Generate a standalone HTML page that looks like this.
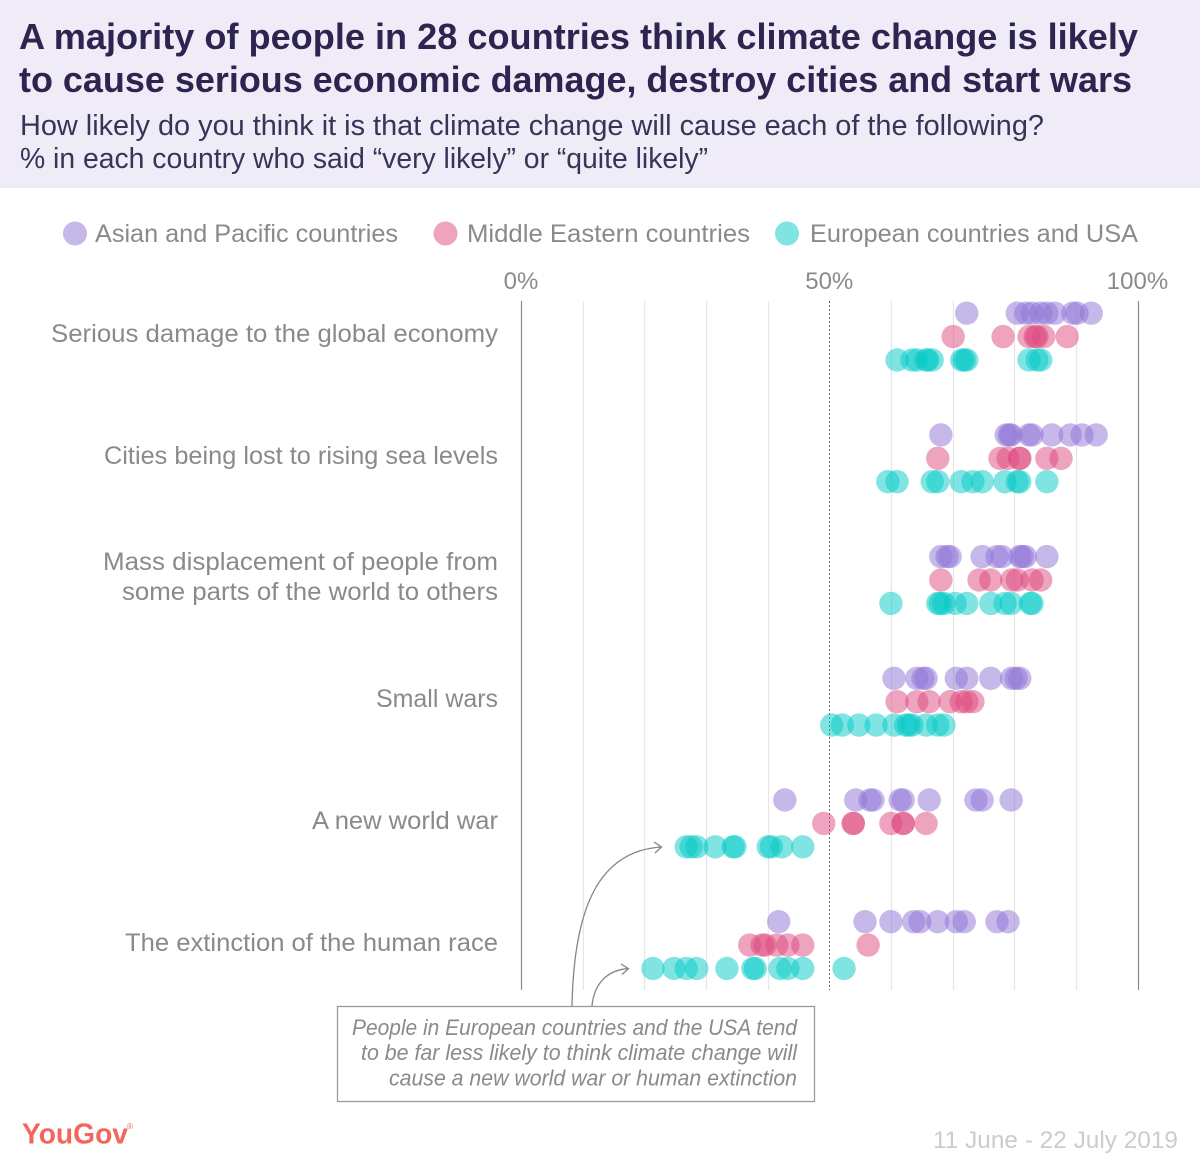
<!DOCTYPE html>
<html lang="en">
<head>
<meta charset="utf-8">
<title>Climate change perceptions chart</title>
<style>
html,body{margin:0;padding:0;background:#fff;}
body{width:1200px;height:1166px;overflow:hidden;}
svg{display:block;font-family:"Liberation Sans",Arial,sans-serif;}
.cat{font-size:25px;fill:#8a8a8a;text-anchor:end;}
.leg{font-size:25px;fill:#8a8a8a;}
.note{font-size:22px;font-style:italic;fill:#8a8a8a;text-anchor:end;}
</style>
</head>
<body>
<svg id="chart" width="1200" height="1166" viewBox="0 0 1200 1166" xmlns="http://www.w3.org/2000/svg">
  <rect x="0" y="0" width="1200" height="188" fill="#efecf7"/>
  <text x="19" y="49" font-size="36" font-weight="700" fill="#2e2450" textLength="1119" lengthAdjust="spacingAndGlyphs">A majority of people in 28 countries think climate change is likely</text>
  <text x="19" y="92" font-size="36" font-weight="700" fill="#2e2450" textLength="1113" lengthAdjust="spacingAndGlyphs">to cause serious economic damage, destroy cities and start wars</text>
  <text x="20" y="135" font-size="29" fill="#3a3358" textLength="1024" lengthAdjust="spacingAndGlyphs">How likely do you think it is that climate change will cause each of the following?</text>
  <text x="20" y="168" font-size="29" fill="#3a3358" textLength="688" lengthAdjust="spacingAndGlyphs">% in each country who said “very likely” or “quite likely”</text>

  <g>
    <circle cx="75" cy="233.5" r="12" fill="#c6b9ea"/>
    <text class="leg" x="95" y="242" textLength="303" lengthAdjust="spacingAndGlyphs">Asian and Pacific countries</text>
    <circle cx="445.5" cy="233.5" r="12" fill="#eea3be"/>
    <text class="leg" x="467" y="242" textLength="283" lengthAdjust="spacingAndGlyphs">Middle Eastern countries</text>
    <circle cx="787" cy="233.5" r="12" fill="#80e4e2"/>
    <text class="leg" x="810" y="242" textLength="328" lengthAdjust="spacingAndGlyphs">European countries and USA</text>
  </g>

  <g id="grid"></g>
  <g id="ticks"></g>

  <g>
    <text class="cat" x="498" y="342" textLength="447" lengthAdjust="spacingAndGlyphs">Serious damage to the global economy</text>
    <text class="cat" x="498" y="464" textLength="394" lengthAdjust="spacingAndGlyphs">Cities being lost to rising sea levels</text>
    <text class="cat" x="498" y="570" textLength="395" lengthAdjust="spacingAndGlyphs">Mass displacement of people from</text>
    <text class="cat" x="498" y="600" textLength="376" lengthAdjust="spacingAndGlyphs">some parts of the world to others</text>
    <text class="cat" x="498" y="707" textLength="122" lengthAdjust="spacingAndGlyphs">Small wars</text>
    <text class="cat" x="498" y="829" textLength="186" lengthAdjust="spacingAndGlyphs">A new world war</text>
    <text class="cat" x="498" y="951" textLength="373" lengthAdjust="spacingAndGlyphs">The extinction of the human race</text>
  </g>

  <g id="dots"></g>

  <g fill="none" stroke="#858585" stroke-width="1.3">
    <path d="M572,1006 C574,905 600,851 661,847"/>
    <path d="M654,842 L661.5,847 L655,853"/>
    <path d="M592,1006 C594,984 607,970 628,968.7"/>
    <path d="M621,964 L628.5,968.7 L622,974.5"/>
    <rect x="337.5" y="1006.5" width="477" height="95" fill="#fff" stroke="#999" stroke-width="1.3"/>
  </g>
  <text class="note" x="797" y="1035" textLength="445" lengthAdjust="spacingAndGlyphs">People in European countries and the USA tend</text>
  <text class="note" x="797" y="1060" textLength="436" lengthAdjust="spacingAndGlyphs">to be far less likely to think climate change will</text>
  <text class="note" x="797" y="1085.5" textLength="408" lengthAdjust="spacingAndGlyphs">cause a new world war or human extinction</text>

  <text x="22" y="1143.5" font-size="29" font-weight="700" fill="#f3665c" textLength="106" lengthAdjust="spacingAndGlyphs">YouGov</text>
  <text x="127" y="1129" font-size="8" fill="#f3665c">®</text>
  <text x="933" y="1148" font-size="24" fill="#cccccc" textLength="245" lengthAdjust="spacingAndGlyphs">11 June - 22 July 2019</text>
</svg>
<script>
const tickValues = [0, 10, 20, 30, 40, 50, 60, 70, 80, 90, 100];
const tickLabels = ["0%", "50%", "100%"];
const labelledTicks = [0, 50, 100];
const categories = ["Serious damage to the global economy", "Cities being lost to rising sea levels", "Mass displacement of people from some parts of the world to others", "Small wars", "A new world war", "The extinction of the human race"];
const seriesNames = ["asian-pacific", "middle-eastern", "european-usa"];

const asianPacific = [
  [72.3, 80.5, 81.9, 82.9, 84.3, 85.3, 86.6, 89.5, 90.2, 92.5],
  [68.1, 78.7, 79.2, 79.5, 82.4, 82.9, 86.1, 89.1, 91.0, 93.3],
  [68.1, 69.1, 69.6, 74.8, 77.2, 78.0, 80.9, 81.3, 81.8, 85.3],
  [60.5, 64.2, 65.2, 65.7, 70.6, 72.3, 76.2, 79.6, 80.3, 80.9],
  [42.8, 54.3, 56.6, 57.1, 61.5, 62.0, 66.2, 73.8, 74.8, 79.5],
  [41.8, 55.8, 60.0, 63.7, 64.7, 67.6, 70.6, 71.9, 77.2, 79.0]
];
const middleEastern = [
  [70.1, 78.2, 82.4, 83.4, 83.7, 84.8, 88.6],
  [67.6, 77.7, 79.0, 80.9, 80.9, 85.3, 87.6],
  [68.1, 74.3, 76.2, 79.6, 80.5, 82.9, 84.3],
  [61.0, 64.2, 66.2, 69.6, 71.4, 72.3, 73.3],
  [49.1, 53.9, 53.9, 60.0, 62.0, 62.0, 65.7],
  [37.1, 39.1, 39.6, 41.5, 43.3, 45.7, 56.3]
];
const europeanUsa = [
  [61.0, 63.4, 64.2, 65.7, 66.0, 66.7, 71.5, 71.9, 72.3, 82.4, 83.7, 84.3],
  [59.5, 61.0, 66.7, 67.6, 71.4, 73.3, 74.8, 78.5, 80.5, 80.9, 85.3],
  [60.0, 67.6, 68.0, 68.6, 70.4, 72.3, 76.2, 78.5, 79.5, 82.6, 82.9],
  [50.4, 52.1, 54.8, 57.6, 60.5, 62.4, 62.9, 63.4, 65.7, 67.6, 68.6],
  [26.8, 27.6, 28.5, 31.5, 34.4, 34.7, 40.1, 40.6, 42.3, 45.7],
  [21.4, 24.8, 26.8, 28.5, 33.4, 37.6, 38.0, 42.0, 43.3, 45.7, 52.4]
];

const SVG_NS = "http://www.w3.org/2000/svg";
const allSeries = [asianPacific, middleEastern, europeanUsa];
const seriesColors = ["#8d73d5", "#dd477d", "#01c9c5"];

function xScale(v) { return 521 + v * 6.165; }
function yScale(categoryIndex, seriesIndex) { return 336.6 + categoryIndex * 121.7 + (seriesIndex - 1) * 23.4; }

const gridGroup = document.getElementById("grid");
tickValues.forEach(function (t) {
  const line = document.createElementNS(SVG_NS, "line");
  
  
  const x = Math.round(xScale(t)) + 0.5;
  line.setAttribute("x1", x);
  line.setAttribute("x2", x);
  line.setAttribute("y1", 301);
  line.setAttribute("y2", 990);
  if (t === 0 || t === 100) {
    line.setAttribute("stroke", "#8a8a8a");
    line.setAttribute("stroke-width", "1.2");
  } else if (t === 50) {
    line.setAttribute("stroke", "#666");
    line.setAttribute("stroke-width", "1");
    line.setAttribute("stroke-dasharray", "2 2");
  } else {
    line.setAttribute("stroke", "#e6e6e6");
    line.setAttribute("stroke-width", "1.2");
  }
  gridGroup.appendChild(line);
});

const tickGroup = document.getElementById("ticks");
labelledTicks.forEach(function (t, i) {
  const label = document.createElementNS(SVG_NS, "text");
  
  
  label.setAttribute("x", xScale(t));
  label.setAttribute("y", 289);
  label.setAttribute("font-size", "24");
  label.setAttribute("fill", "#8a8a8a");
  label.setAttribute("text-anchor", "middle");
  label.textContent = tickLabels[i];
  tickGroup.appendChild(label);
});

const dotGroup = document.getElementById("dots");
allSeries.forEach(function (series, s) {
  series.forEach(function (values, c) {
    values.forEach(function (v) {
      const dot = document.createElementNS(SVG_NS, "circle");
      
      
      dot.setAttribute("cx", xScale(v));
      dot.setAttribute("cy", yScale(c, s));
      dot.setAttribute("r", 11.7);
      dot.setAttribute("fill", seriesColors[s]);
      dot.setAttribute("fill-opacity", "0.5");
      dotGroup.appendChild(dot);
    });
  });
});
</script>
</body>
</html>
